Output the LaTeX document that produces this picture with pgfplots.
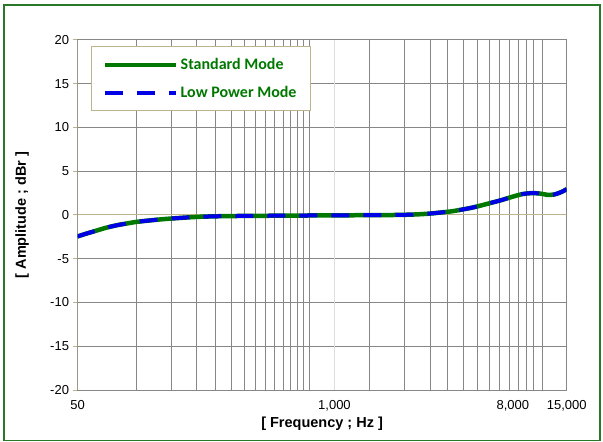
\documentclass[border=0pt]{standalone}
\usepackage{fontspec}
\setmainfont{Liberation Sans}
\newfontfamily\calib{Carlito}
\usepackage{pgfplots}
\pgfplotsset{compat=1.18}
\definecolor{framec}{RGB}{40,120,40}
\definecolor{tanc}{RGB}{190,180,140}
\definecolor{gridc}{RGB}{135,135,135}
\definecolor{lgrid}{RGB}{222,222,222}
\definecolor{stdgreen}{RGB}{0,120,0}
\definecolor{lpblue}{RGB}{0,0,230}
\definecolor{legtext}{RGB}{0,120,0}
\begin{document}
\begin{tikzpicture}
\path[use as bounding box] (0,0) rectangle (603bp,442bp);
\draw[framec, line width=1.6bp] (4bp,1.5bp) rectangle (600bp,437bp);
\begin{axis}[
  at={(77.5bp,52bp)}, anchor=south west,
  scale only axis, width=489.2bp, height=350bp,
  xmode=log, xmin=50, xmax=15000, ymin=-20, ymax=20,
  xtick={50,1000,8000,15000},
  xticklabels={50,{1,000},{8,000},{15,000}},
  ytick={-20,-15,...,20},
  minor xtick={100,150,200,250,300,350,400,450,500,550,600,650,700,750,1500,2276,3050,3758,4477,5311,6063,6889,7744,8600,9403,10125,11336},
  xminorgrids=true, xmajorgrids=false, ymajorgrids=true,
  minor grid style={gridc, line width=1bp},
  major grid style={gridc, line width=1bp},
  axis line style={gridc, line width=1bp},
  xtick style={draw=none}, minor tick length=0pt,
  ytick style={tanc, line width=1bp},
  ytick pos=left, xtick pos=bottom,
  tick align=outside, major tick length=5bp,
  /pgf/number format/assume math mode=true,
  tick label style={font=\fontsize{13bp}{15bp}\selectfont, text=black},
  xticklabel style={yshift=-2bp},
  every axis x label/.style={at={(rel axis cs:0.5,0)}, yshift=-34bp, anchor=center},
  every axis y label/.style={at={(rel axis cs:-0.1134,0.5)}, rotate=90, anchor=center},
  label style={font=\bfseries\fontsize{14.5bp}{17bp}\selectfont},
  xlabel={[ Frequency ; Hz ]},
  ylabel={[ Amplitude ; dBr ]},
  every axis plot/.append style={legend image code/.code={\draw[##1] (0bp,0bp) -- (60bp,0bp); \path (0bp,0bp) -- (71bp,0bp);}},
  legend style={at={(rel axis cs:0.027,0.983)}, anchor=north west, draw=tanc, line width=1bp, fill=white,
    inner xsep=12bp, inner ysep=10bp, row sep=11bp,
    font=\calib\bfseries\fontsize{16bp}{19bp}\selectfont, text=legtext,
    /tikz/every even column/.append style={column sep=19bp}},
  legend cell align=left,
]
\draw[lgrid, line width=1bp] (axis cs:1000,-20) -- (axis cs:1000,20);
\draw[tanc, line width=1bp] (axis cs:50,0) -- (axis cs:15000,0);
\draw[tanc, line width=1bp] (axis cs:50,-20) -- (axis cs:50,20);
\draw[tanc, line width=1bp] (axis cs:50,-20) -- ++(0bp,-5bp);
\draw[tanc, line width=1bp] (axis cs:15000,-20) -- ++(0bp,-5bp);
\addplot[stdgreen, line width=4.5bp, smooth] coordinates {
(50,-2.45) (55,-2.15) (60,-1.9) (70,-1.45) (80,-1.15) (90,-0.95) (100,-0.78)
(125,-0.55) (150,-0.4) (200,-0.22) (250,-0.15) (300,-0.12) (400,-0.1) (500,-0.08)
(700,-0.06) (1000,-0.04) (1500,-0.02) (2000,0.0) (2500,0.05) (3000,0.15) (3500,0.3)
(4000,0.45) (5000,0.85) (6000,1.3) (7000,1.7) (8000,2.1) (9000,2.4) (10000,2.5)
(11000,2.45) (12000,2.3) (13000,2.35) (14000,2.6) (15000,2.95)};
\addlegendentry{Standard Mode}
\addplot[lpblue, line width=4bp, dash pattern=on 18bp off 14bp, smooth] coordinates {
(50,-2.45) (55,-2.15) (60,-1.9) (70,-1.45) (80,-1.15) (90,-0.95) (100,-0.78)
(125,-0.55) (150,-0.4) (200,-0.22) (250,-0.15) (300,-0.12) (400,-0.1) (500,-0.08)
(700,-0.06) (1000,-0.04) (1500,-0.02) (2000,0.0) (2500,0.05) (3000,0.15) (3500,0.3)
(4000,0.45) (5000,0.85) (6000,1.3) (7000,1.7) (8000,2.1) (9000,2.4) (10000,2.5)
(11000,2.45) (12000,2.3) (13000,2.35) (14000,2.6) (15000,2.95)};
\addlegendentry{Low Power Mode}
\end{axis}
\end{tikzpicture}
\end{document}
